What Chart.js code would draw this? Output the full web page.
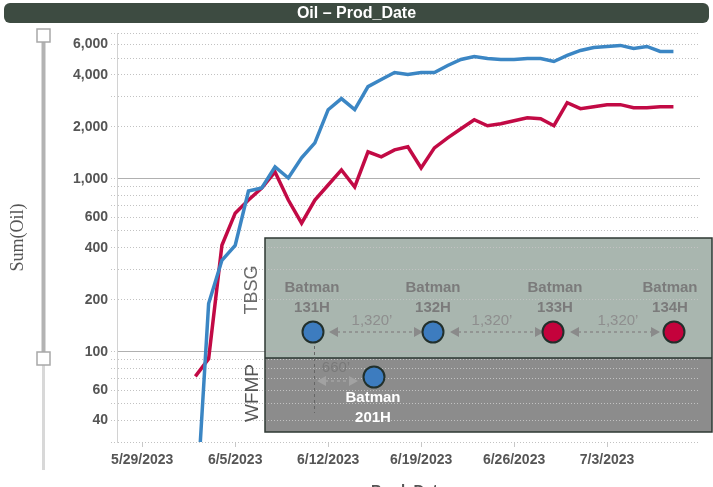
<!DOCTYPE html>
<html>
<head>
<meta charset="utf-8">
<script src="https://cdn.jsdelivr.net/npm/chart.js@4.4.0/dist/chart.umd.min.js"></script>
<style>
  html, body { margin: 0; padding: 0; background: #fff; }
  #wrap { width: 713px; height: 487px; }
</style>
</head>
<body>
<div id="wrap"><canvas id="oil-chart" width="713" height="487"></canvas></div>
<script>
// daily production dates
const prodDates = [
  '6/2/2023', '6/3/2023', '6/4/2023', '6/5/2023', '6/6/2023', '6/7/2023', '6/8/2023',
  '6/9/2023', '6/10/2023', '6/11/2023', '6/12/2023', '6/13/2023', '6/14/2023', '6/15/2023',
  '6/16/2023', '6/17/2023', '6/18/2023', '6/19/2023', '6/20/2023', '6/21/2023', '6/22/2023',
  '6/23/2023', '6/24/2023', '6/25/2023', '6/26/2023', '6/27/2023', '6/28/2023', '6/29/2023',
  '6/30/2023', '7/1/2023', '7/2/2023', '7/3/2023', '7/4/2023', '7/5/2023', '7/6/2023',
  '7/7/2023', '7/8/2023'
];

// Batman 131H / 132H / 201H
const blueWellsOil = [
  10, 190, 338, 413, 852, 886, 1174, 1013, 1325, 1619, 2518, 2918, 2518, 3426,
  3763, 4134, 4025, 4134, 4134, 4539, 4919, 5120, 4985, 4919, 4919, 4985, 4985,
  4789, 5190, 5549, 5775, 5853, 5933, 5698, 5853, 5475, 5475
];

// Batman 133H / 134H
const redWellsOil = [
  72, 91, 413, 634, 755, 886, 1098, 755, 555, 755, 923, 1128, 899, 1435,
  1342, 1474, 1535, 1158, 1514, 1731, 1953, 2203, 2033, 2088, 2174, 2263, 2233,
  2033, 2766, 2553, 2622, 2693, 2693, 2587, 2587, 2622, 2622
];

const weekTicks = ['5/29/2023', '6/5/2023', '6/12/2023', '6/19/2023', '6/26/2023', '7/3/2023'];
const gridTicks = [30, 40, 50, 60, 70, 80, 90, 100, 200, 300, 400, 500, 600, 700, 800, 900,
  1000, 2000, 3000, 4000, 5000, 6000, 7000];
const labelledTicks = [40, 60, 100, 200, 400, 600, 1000, 2000, 4000, 6000];

const FONT = "'Liberation Sans', Arial, sans-serif";

const toDay = s => {
  const [m, d, y] = s.split('/').map(Number);
  return Date.UTC(y, m - 1, d) / 864e5;
};
const day0 = toDay(weekTicks[0]);
const points = vals => prodDates.map((d, i) => ({ x: toDay(d) - day0, y: vals[i] }));

// well spacing diagram geometry
const box = { left: 265, top: 238, mid: 358, bottom: 432, right: 712 };

function arrow(ctx, x1, x2, y, color) {
  ctx.save();
  ctx.strokeStyle = color;
  ctx.fillStyle = color;
  ctx.lineWidth = 1.5;
  ctx.setLineDash([3, 3]);
  ctx.beginPath();
  ctx.moveTo(x1 + 8, y);
  ctx.lineTo(x2 - 8, y);
  ctx.stroke();
  ctx.setLineDash([]);
  ctx.beginPath();
  ctx.moveTo(x1, y); ctx.lineTo(x1 + 9, y - 5); ctx.lineTo(x1 + 9, y + 5); ctx.closePath();
  ctx.moveTo(x2, y); ctx.lineTo(x2 - 9, y - 5); ctx.lineTo(x2 - 9, y + 5); ctx.closePath();
  ctx.fill();
  ctx.restore();
}

function well(ctx, x, y, fill) {
  ctx.beginPath();
  ctx.arc(x, y, 10.5, 0, Math.PI * 2);
  ctx.fillStyle = fill;
  ctx.fill();
  ctx.lineWidth = 2;
  ctx.strokeStyle = '#22302c';
  ctx.stroke();
}

function label(ctx, lines, x, y, color) {
  ctx.fillStyle = color;
  ctx.font = 'bold 15px ' + FONT;
  ctx.textAlign = 'center';
  ctx.textBaseline = 'middle';
  lines.forEach((t, i) => ctx.fillText(t, x, y + i * 20));
}

const decorations = {
  id: 'decorations',
  beforeDraw(chart) {
    const ctx = chart.ctx;
    ctx.save();
    ctx.fillStyle = '#fff';
    ctx.fillRect(0, 0, chart.width, chart.height);

    // title bar
    ctx.beginPath();
    ctx.roundRect(4, 3, 705, 20, 6);
    ctx.fillStyle = '#3d4b41';
    ctx.fill();
    ctx.fillStyle = '#fff';
    ctx.font = 'bold 16px ' + FONT;
    ctx.textAlign = 'center';
    ctx.textBaseline = 'middle';
    ctx.fillText('Oil \u2013 Prod_Date', 356.5, 13.5);

    // range slider
    ctx.lineCap = 'butt';
    ctx.strokeStyle = '#d8d8d8';
    ctx.lineWidth = 3;
    ctx.beginPath(); ctx.moveTo(43.5, 359); ctx.lineTo(43.5, 470); ctx.stroke();
    ctx.strokeStyle = '#b3b3b3';
    ctx.lineWidth = 4;
    ctx.beginPath(); ctx.moveTo(43.5, 36); ctx.lineTo(43.5, 359); ctx.stroke();
    [35.5, 358.5].forEach(cy => {
      ctx.fillStyle = '#fff';
      ctx.fillRect(37, cy - 6.5, 13, 13);
      ctx.strokeStyle = '#a8a8a8';
      ctx.lineWidth = 1.5;
      ctx.strokeRect(37, cy - 6.5, 13, 13);
    });

    // formation bands
    ctx.fillStyle = '#a9b6af';
    ctx.fillRect(box.left, box.top, box.right - box.left, box.mid - box.top);
    ctx.fillStyle = '#8c8c8c';
    ctx.fillRect(box.left, box.mid, box.right - box.left, box.bottom - box.mid);
    ctx.restore();
  },
  afterDatasetsDraw(chart) {
    const ctx = chart.ctx;
    ctx.save();
    ctx.strokeStyle = '#2e3833';
    ctx.lineWidth = 1.5;
    ctx.strokeRect(box.left, box.top, box.right - box.left, box.bottom - box.top);
    ctx.beginPath(); ctx.moveTo(box.left, box.mid); ctx.lineTo(box.right, box.mid); ctx.stroke();

    // formation names
    ctx.textAlign = 'center';
    ctx.textBaseline = 'middle';
    ctx.font = '18px ' + FONT;
    ctx.fillStyle = '#6a6a6a';
    ctx.save(); ctx.translate(252, 290); ctx.rotate(-Math.PI / 2); ctx.fillText('TBSG', 0, 0); ctx.restore();
    ctx.font = '19px ' + FONT;
    ctx.fillStyle = '#555';
    ctx.save(); ctx.translate(253, 393); ctx.rotate(-Math.PI / 2); ctx.fillText('WFMP', 0, 0); ctx.restore();

    // spacing arrows
    arrow(ctx, 329, 423, 332, '#8a8a8a');
    arrow(ctx, 450, 544, 332, '#8a8a8a');
    arrow(ctx, 570, 660, 332, '#8a8a8a');
    arrow(ctx, 317, 358, 381, '#a2a2a2');
    ctx.fillStyle = '#8e8e8e';
    ctx.font = '15px ' + FONT;
    ctx.fillText('1,320\u2019', 372, 321);
    ctx.fillText('1,320\u2019', 492, 321);
    ctx.fillText('1,320\u2019', 618, 321);
    ctx.fillStyle = '#7a7a7a';
    ctx.fillText('660\u2019', 336, 368);

    ctx.strokeStyle = '#666';
    ctx.lineWidth = 1;
    ctx.setLineDash([3, 3]);
    ctx.beginPath(); ctx.moveTo(314.5, 346); ctx.lineTo(314.5, 413); ctx.stroke();
    ctx.setLineDash([]);

    // wells
    well(ctx, 313, 332, '#3d7cbf');
    well(ctx, 433, 332, '#3d7cbf');
    well(ctx, 553, 332, '#c4023c');
    well(ctx, 674, 332, '#c4023c');
    well(ctx, 374, 377, '#3d7cbf');
    label(ctx, ['Batman', '131H'], 312, 288, '#7b7b7b');
    label(ctx, ['Batman', '132H'], 433, 288, '#7b7b7b');
    label(ctx, ['Batman', '133H'], 555, 288, '#7b7b7b');
    label(ctx, ['Batman', '134H'], 670, 288, '#7b7b7b');
    label(ctx, ['Batman', '201H'], 373, 398, '#fff');

    // x axis title, running off the bottom edge
    const ca = chart.chartArea;
    ctx.fillStyle = '#555';
    ctx.font = 'bold 15px ' + FONT;
    ctx.textBaseline = 'top';
    ctx.fillText('Prod_Date', (ca.left + ca.right) / 2, 483);
    ctx.restore();
  }
};

const isMajor = v => v === 100 || v === 1000;

new Chart(document.getElementById('oil-chart'), {
  type: 'line',
  data: {
    datasets: [
      {
        label: 'Batman 131H / 132H / 201H',
        data: points(blueWellsOil),
        borderColor: '#3b86c4',
        borderWidth: 3.5,
        pointRadius: 0,
        tension: 0
      },
      {
        label: 'Batman 133H / 134H',
        data: points(redWellsOil),
        borderColor: '#c20a45',
        borderWidth: 3.5,
        pointRadius: 0,
        tension: 0
      }
    ]
  },
  options: {
    responsive: false,
    devicePixelRatio: 1,
    animation: false,
    layout: { padding: { top: 33, right: 13, bottom: 0, left: 0 } },
    plugins: {
      legend: { display: false },
      tooltip: { enabled: false }
    },
    scales: {
      x: {
        type: 'linear',
        min: -1.9,
        max: 42,
        afterBuildTicks: s => { s.ticks = weekTicks.map(t => ({ value: toDay(t) - day0 })); },
        afterFit: s => { s.height = 45; },
        ticks: {
          autoSkip: false,
          maxRotation: 0,
          padding: 5,
          color: '#555',
          font: { family: FONT, size: 14, weight: 'bold' },
          callback: (v, i) => weekTicks[i]
        },
        grid: { drawOnChartArea: false, tickLength: 5, tickColor: '#c8c8c8' },
        border: { display: false }
      },
      y: {
        type: 'logarithmic',
        min: 30,
        max: 7000,
        afterBuildTicks: s => { s.ticks = gridTicks.map(v => ({ value: v })); },
        afterFit: s => { s.width = 117; },
        ticks: {
          autoSkip: false,
          padding: 3,
          color: '#555',
          font: { family: FONT, size: 14, weight: 'bold' },
          callback: v => labelledTicks.includes(v) ? v.toLocaleString('en-US') : ''
        },
        grid: {
          color: c => (c.tick && isMajor(c.tick.value)) ? '#b0b0b0' : '#c2c2c2',
          tickLength: 6,
          tickColor: '#c2c2c2',
          tickBorderDash: [1, 2]
        },
        border: {
          display: true,
          color: '#d2d2d2',
          dash: c => (c.tick && isMajor(c.tick.value)) ? [] : [1, 2]
        },
        title: {
          display: true,
          text: 'Sum(Oil)',
          color: '#555',
          font: { family: "'Liberation Serif', 'Times New Roman', serif", size: 18 },
          padding: { top: 7, bottom: 0 }
        }
      }
    }
  },
  plugins: [decorations]
});
</script>
</body>
</html>
